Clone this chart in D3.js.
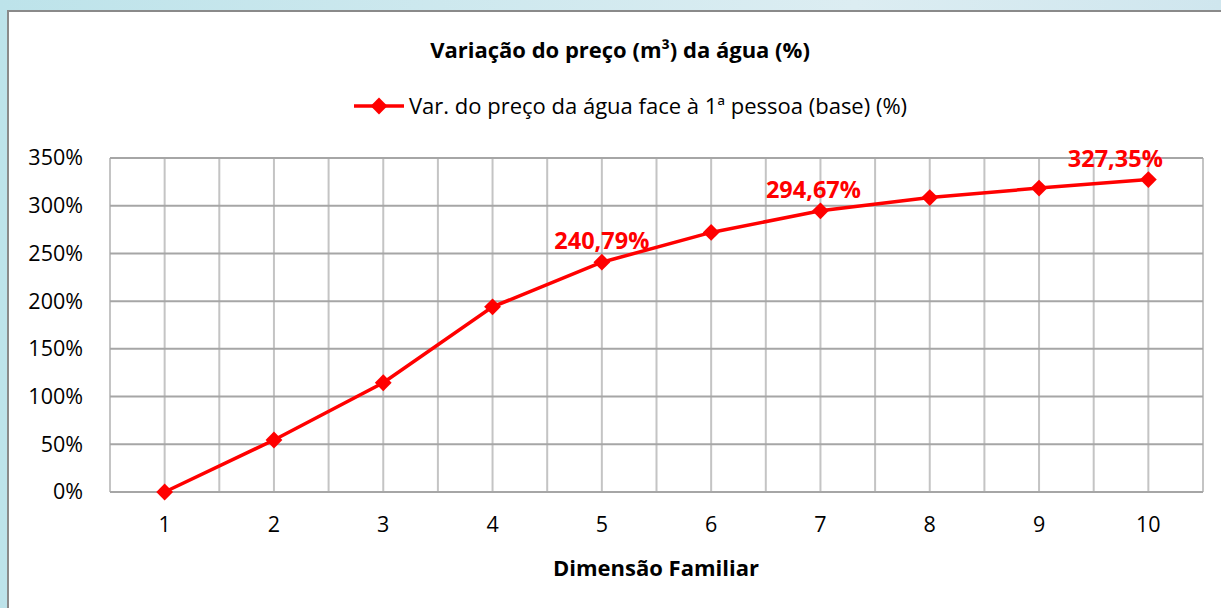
<!DOCTYPE html>
<html>
<head>
<meta charset="utf-8">
<script src="https://cdn.jsdelivr.net/npm/d3@7"></script>
<style>
	body { margin: 0; background: #ffffff; }
	svg { display: block; font-family: "Open Sans", sans-serif; }
</style>
</head>
<body>
<svg id="chart" width="1221" height="608"></svg>
<script>
// Data
var sizes = ["1", "2", "3", "4", "5", "6", "7", "8", "9", "10"];
var variation = [0, 54.5, 114.5, 194, 240.79, 272, 294.67, 308.5, 318.5, 327.35];
var labelled = ["5", "7", "10"];
var yTicks = [0, 50, 100, 150, 200, 250, 300, 350];
var seriesName = "Var. do preço da água face à 1ª pessoa (base) (%)";
var chartTitle = "Variação do preço (m³) da água (%)";
var xTitle = "Dimensão Familiar";

var svg = d3.select("#chart");
var W = 1221, H = 608;
var plotLeft = 110, plotRight = 1203, plotTop = 158, plotBottom = 492;
var FONT = "'Open Sans', sans-serif";

// light blue page background behind the chart box
var defs = svg.append("defs");
var grad = defs.append("linearGradient").attr("id", "bg").attr("x1", 0).attr("x2", 1).attr("y1", 0).attr("y2", 0);
grad.append("stop").attr("offset", "0%").attr("stop-color", "#bde3ea");
grad.append("stop").attr("offset", "70%").attr("stop-color", "#dcedf2");
grad.append("stop").attr("offset", "100%").attr("stop-color", "#cfe6ee");
svg.append("rect").attr("width", W).attr("height", H).attr("fill", "url(#bg)");

// chart box
svg.append("rect").attr("x", 8).attr("y", 11).attr("width", W).attr("height", H)
	.attr("fill", "#ffffff").attr("stroke", "#8a8a8a").attr("stroke-width", 2);

var x = d3.scaleBand().domain(sizes).range([plotLeft, plotRight]);
var y = d3.scaleLinear().domain([0, 350]).range([plotBottom, plotTop]);

// vertical grid lines: at band edges and band centres
var g = svg.append("g");
var vLines = [];
sizes.forEach(function(s){ vLines.push(x(s)); vLines.push(x(s) + x.bandwidth() / 2); });
vLines.push(plotRight);
g.selectAll("line.v").data(vLines).enter().append("line")
	.attr("x1", function(d){ return d; }).attr("x2", function(d){ return d; })
	.attr("y1", plotTop).attr("y2", plotBottom)
	.attr("stroke", "#c4c4c4").attr("stroke-width", 2);

// horizontal grid lines
g.selectAll("line.h").data(yTicks).enter().append("line")
	.attr("x1", plotLeft).attr("x2", plotRight)
	.attr("y1", function(d){ return y(d); }).attr("y2", function(d){ return y(d); })
	.attr("stroke", "#a6a6a6").attr("stroke-width", 2);

// y axis labels
var yAxis = d3.axisLeft(y).tickValues(yTicks).tickSize(0).tickPadding(27)
	.tickFormat(function(d){ return d + "%"; });
svg.append("g").attr("transform", "translate(" + plotLeft + ",0)").call(yAxis)
	.call(function(a){ a.select(".domain").remove(); })
	.selectAll("text").attr("font-size", "21.5px").attr("font-family", FONT).attr("fill", "#000");

// x axis labels
var xAxis = d3.axisBottom(x).tickSize(0).tickPadding(25);
svg.append("g").attr("transform", "translate(0," + plotBottom + ")").call(xAxis)
	.call(function(a){ a.select(".domain").remove(); })
	.selectAll("text").attr("font-size", "21.5px").attr("font-family", FONT).attr("fill", "#000");

// line and markers
var pts = sizes.map(function(s, i){ return {k: s, v: variation[i]}; });
var cx = function(d){ return x(d.k) + x.bandwidth() / 2; };
var line = d3.line().x(cx).y(function(d){ return y(d.v); });
svg.append("path").datum(pts).attr("d", line)
	.attr("fill", "none").attr("stroke", "#ff0000").attr("stroke-width", 3.5);

var diamond = d3.symbol().type(d3.symbolDiamond2).size(180);
svg.selectAll("path.mk").data(pts).enter().append("path")
	.attr("transform", function(d){ return "translate(" + cx(d) + "," + y(d.v) + ")"; })
	.attr("d", diamond).attr("fill", "#ff0000");

// data labels
var labelShift = {"5": 0, "7": -7, "10": -33};
svg.selectAll("text.lbl").data(pts.filter(function(d){ return labelled.indexOf(d.k) >= 0; }))
	.enter().append("text")
	.attr("x", function(d){ return cx(d) + labelShift[d.k]; })
	.attr("y", function(d){ return y(d.v) - 13; })
	.attr("text-anchor", "middle").attr("font-size", "23.5px").attr("font-weight", "bold")
	.attr("fill", "#ff0000")
	.text(function(d){ return d3.format(".2f")(d.v).replace(".", ",") + "%"; });

// title
svg.append("text").attr("x", 620).attr("y", 58).attr("text-anchor", "middle")
	.attr("font-size", "22px").attr("font-weight", "bold").attr("fill", "#000").text(chartTitle);

// legend
var lg = svg.append("g").attr("transform", "translate(354,106)");
lg.append("line").attr("x1", 0).attr("x2", 50).attr("stroke", "#ff0000").attr("stroke-width", 3.5);
lg.append("path").attr("transform", "translate(25,0)").attr("d", diamond).attr("fill", "#ff0000");
lg.append("text").attr("x", 55).attr("y", 8).attr("font-size", "22px").attr("fill", "#000").text(seriesName);

// x axis title
svg.append("text").attr("x", 656).attr("y", 576).attr("text-anchor", "middle")
	.attr("font-size", "22px").attr("font-weight", "bold").attr("fill", "#000").text(xTitle);
</script>
</body>
</html>
